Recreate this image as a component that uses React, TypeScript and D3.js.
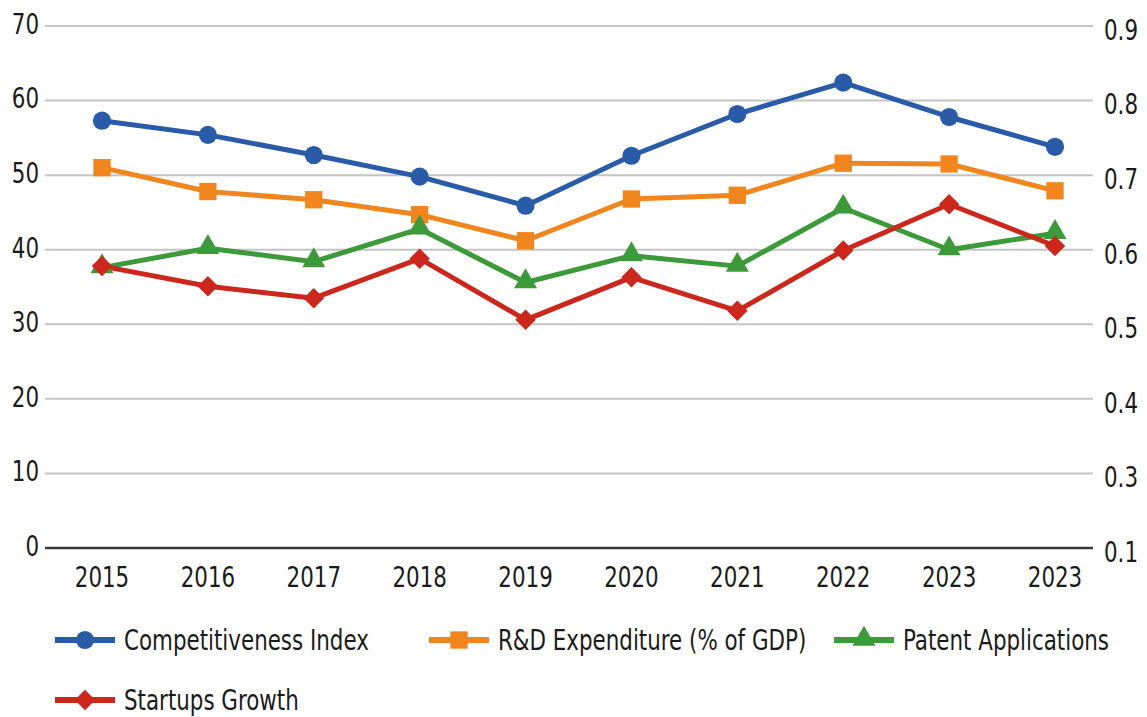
import React from "react"
import * as d3 from "d3"

const years = ["2015", "2016", "2017", "2018", "2019", "2020", "2021", "2022", "2023", "2023"]
const competitiveness = [57.3, 55.4, 52.7, 49.8, 45.9, 52.6, 58.2, 62.4, 57.8, 53.8]
const rdExpenditure = [51.0, 47.8, 46.7, 44.7, 41.2, 46.8, 47.3, 51.6, 51.5, 47.9]
const patents = [37.6, 40.2, 38.4, 42.8, 35.6, 39.2, 37.8, 45.6, 40.0, 42.2]
const startups = [37.8, 35.1, 33.5, 38.8, 30.6, 36.3, 31.8, 39.9, 46.1, 40.5]
const leftTicks = [0, 10, 20, 30, 40, 50, 60, 70]
const rightTickLabels = ["0.1", "0.3", "0.4", "0.5", "0.6", "0.7", "0.8", "0.9"]

type Shape = "circle" | "square" | "triangle" | "diamond"

interface Series {
  name: string
  values: number[]
  color: string
  shape: Shape
}

const series: Series[] = [
  { name: "Competitiveness Index", values: competitiveness, color: "#2a5ba8", shape: "circle" },
  { name: "R&D Expenditure (% of GDP)", values: rdExpenditure, color: "#f0861d", shape: "square" },
  { name: "Patent Applications", values: patents, color: "#3d9a3a", shape: "triangle" },
  { name: "Startups Growth", values: startups, color: "#cc271d", shape: "diamond" },
]

const W = 1147
const H = 717
const FONT = "'DejaVu Sans Condensed', 'Liberation Sans', sans-serif"
// the reference uses a narrow face; squeeze the condensed one we have
const SQUEEZE = 0.85

// legend layout: [x, y] of each item's sample line start
const legendPos: [number, number][] = [
  [55, 640],
  [429, 640],
  [834, 640],
  [55, 700],
]

const symbolFor = (shape: Shape) => {
  switch (shape) {
    case "circle":
      return d3.symbol(d3.symbolCircle, 260)
    case "square":
      return d3.symbol(d3.symbolSquare, 300)
    case "triangle":
      return d3.symbol(d3.symbolTriangle, 230)
    default:
      return d3.symbol(d3.symbolSquare, 210)
  }
}

const Marker = ({ shape, color, x, y }: { shape: Shape; color: string; x: number; y: number }) => {
  const path = symbolFor(shape)() || ""
  const rot = shape === "diamond" ? " rotate(45)" : ""
  const dy = shape === "triangle" ? -1 : 0
  return <path d={path} fill={color} transform={`translate(${x},${y + dy})${rot}`} />
}

const Label = ({
  x,
  y,
  anchor = "start",
  children,
}: {
  x: number
  y: number
  anchor?: "start" | "middle" | "end"
  children: React.ReactNode
}) => (
  <text
    transform={`translate(${x},${y}) scale(${SQUEEZE},1)`}
    dy="0.35em"
    textAnchor={anchor}
    fontSize={28}
    fill="#1a1a1a"
  >
    {children}
  </text>
)

const App: React.FC = () => {
  const plotLeft = 45
  const plotRight = 1093
  const idx = years.map((_, i) => String(i))
  const x = d3.scalePoint<string>().domain(idx).range([102, 1055])
  const y = d3.scaleLinear().domain([0, 70]).range([548, 26])

  const line = d3
    .line<number>()
    .x((_, i) => x(String(i)) as number)
    .y((d) => y(d))

  return (
    <svg
      width={W}
      height={H}
      style={{ position: "absolute", left: 0, top: 0, background: "#fff" }}
      fontFamily={FONT}
    >
      <rect width={W} height={H} fill="#fff" />
      {leftTicks.map((t, i) =>
        t === 0 ? null : (
          <line key={"g" + i} x1={plotLeft} x2={plotRight} y1={y(t)} y2={y(t)} stroke="#c4c4c4" strokeWidth={2} />
        )
      )}
      <line x1={plotLeft} x2={plotRight} y1={y(0)} y2={y(0)} stroke="#3a3a3a" strokeWidth={2.5} />

      {leftTicks.map((t, i) => (
        <Label key={"l" + i} x={39} y={y(t) - 2} anchor="end">
          {t}
        </Label>
      ))}
      {rightTickLabels.map((t, i) => (
        <Label key={"r" + i} x={1104} y={y(leftTicks[i]) + 4}>
          {t}
        </Label>
      ))}
      {years.map((yr, i) => (
        <Label key={"x" + i} x={x(String(i)) as number} y={577} anchor="middle">
          {yr}
        </Label>
      ))}

      {series.map((s) => (
        <path
          key={"line" + s.name}
          d={line(s.values) || ""}
          fill="none"
          stroke={s.color}
          strokeWidth={5}
          strokeLinejoin="round"
        />
      ))}
      {series.map((s) => (
        <g key={"m" + s.name}>
          {s.values.map((v, i) => (
            <Marker key={i} shape={s.shape} color={s.color} x={x(String(i)) as number} y={y(v)} />
          ))}
        </g>
      ))}

      {series.map((s, i) => {
        const [lx, ly] = legendPos[i]
        return (
          <g key={"leg" + s.name}>
            <line x1={lx} x2={lx + 60} y1={ly} y2={ly} stroke={s.color} strokeWidth={6} />
            <Marker shape={s.shape} color={s.color} x={lx + 30} y={ly} />
            <Label x={lx + 69} y={ly}>
              {s.name}
            </Label>
          </g>
        )
      })}
    </svg>
  )
}

export default App
